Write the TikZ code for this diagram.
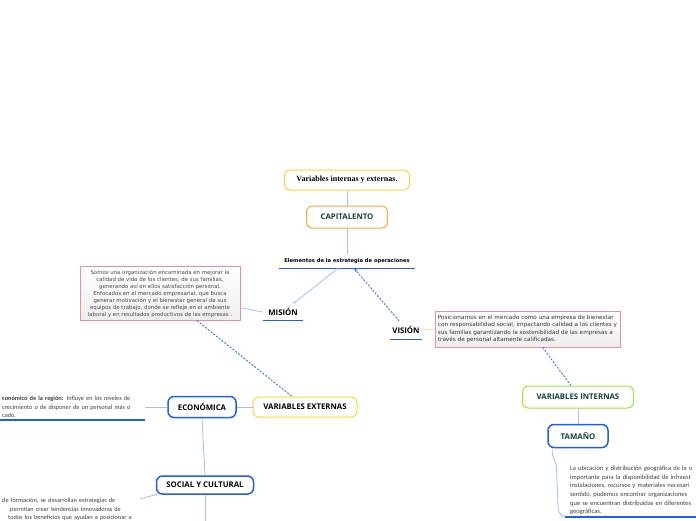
\documentclass[tikz,border=0pt]{standalone}
\usepackage{fontspec}
\setmainfont{Open Sans}
\newfontfamily\verdfont{DejaVu Sans}
\newfontfamily\califont{Carlito}
\newfontfamily\timesfont{Liberation Serif}
\usetikzlibrary{arrows.meta}
\definecolor{amarillo}{HTML}{F5D547}
\definecolor{naranja}{HTML}{F9A93C}
\definecolor{durazno}{HTML}{FAD9A8}
\definecolor{azul}{HTML}{1F5FEF}
\definecolor{celeste}{HTML}{A3BFF3}
\definecolor{punteo}{HTML}{3479DE}
\definecolor{verdelima}{HTML}{9BE43C}
\definecolor{rosa}{HTML}{E3929C}
\definecolor{verdeosc}{HTML}{17423A}
\definecolor{gristxt}{HTML}{4A4A4A}
\begin{document}
\begin{tikzpicture}[x=1pt,y=-1pt,
  tema/.style={draw,rounded corners=6pt,line width=1pt,inner sep=0pt,fill=white,
    font=\bfseries\fontsize{7.8}{8}\selectfont},
  ramal/.style={tema,draw=azul,line width=1.5pt},
  etiqueta/.style={inner sep=0pt,font=\bfseries\fontsize{7.8}{8}\selectfont},
  nota/.style={draw=rosa,line width=0.8pt,top color=white,bottom color=black!7,
    align=center,inner sep=3pt,font=\verdfont\fontsize{5.4}{7}\selectfont,text=gristxt},
  texto/.style={align=left,inner xsep=3pt,inner ysep=2pt,text=black!75,
    font=\califont\fontsize{6.3}{8.7}\selectfont},
  enlace/.style={draw=celeste,line width=0.8pt},
  subraya/.style={draw=azul,line width=1.3pt},
  punteado/.style={draw=punteo,line width=0.9pt,dash pattern=on 2pt off 1.5pt}]
\clip (0,0) rectangle (696,520);
\fill[white] (0,0) rectangle (696,520);

\node[tema,draw=amarillo,minimum width=125pt,minimum height=20pt,font=\timesfont\bfseries\fontsize{8}{9}\selectfont] (titulo) at (347,180) {Variables internas y externas.};
\node[tema,draw=naranja,minimum width=81pt,minimum height=22pt,text=verdeosc] (capital) at (347,217) {CAPITALENTO};
\node[inner sep=0pt,minimum width=135pt,minimum height=14pt,font=\verdfont\bfseries\fontsize{5.2}{6}\selectfont] (elem) at (347,261) {Elementos de la estrategia de operaciones};
\node[etiqueta,minimum width=40pt,minimum height=16pt] (mision) at (283,312) {MISIÓN};
\node[etiqueta,minimum width=32pt,minimum height=18pt] (vision) at (406,330) {VISIÓN};
\node[nota,minimum width=160pt,minimum height=53pt] (mdesc) at (160,293.5) {Somos una organización encaminada en mejorar la\\calidad de vida de los clientes, de sus familias,\\generando así en ellos satisfacción personal.\\Enfocados en el mercado empresarial, que busca\\generar motivación y el bienestar general de sus\\equipos de trabajo, donde se refleje en el ambiente\\laboral y en resultados productivos de las empresas .};
\node[nota,align=left,minimum width=183pt,minimum height=36pt,text=black!80,font=\verdfont\fontsize{5.7}{7.5}\selectfont] (vdesc) at (527.5,329) {Posicionarnos en el mercado como una empresa de bienestar\\con responsabilidad social, impactando  calidad a los clientes y\\sus familias garantizando la sostenibilidad de las empresas a\\través de personal altamente calificadas.};
\node[tema,draw=amarillo,minimum width=104pt,minimum height=20pt] (vext) at (305,407) {VARIABLES EXTERNAS};
\node[ramal,minimum width=68pt,minimum height=21pt] (econ) at (202,407) {ECONÓMICA};
\node[texto,text width=140pt,anchor=south west] (econtxt) at (-1,420) {\textbf{conómico de la región:} Influye en los niveles de\\crecimiento o de disponer de un personal más o\\cado.};
\node[ramal,minimum width=97pt,minimum height=18pt] (social) at (205,485) {SOCIAL  Y CULTURAL};
\node[texto,text width=140pt,anchor=north west] (soctxt) at (-1,496) {de formación, se desarrollan estrategias  de\\\hspace*{8pt}permitan crear  tendencias innovadoras de\\\hspace*{6pt}todos los beneficios que ayudan a posicionar a};
\node[tema,draw=verdelima,minimum width=111pt,minimum height=22pt,text=verdeosc] (vint) at (578,397) {VARIABLES INTERNAS};
\node[ramal,minimum width=60pt,minimum height=23pt,text=verdeosc] (tam) at (578,436) {TAMAÑO};
\node[texto,text width=150pt,anchor=south west,inner xsep=5pt,font=\califont\fontsize{6.5}{8.6}\selectfont] (tamtxt) at (565,517) {La ubicación y distribución geográfica de la o\\importante para la disponibilidad de infraest\\instalaciones, recursos y materiales necesari\\sentido, podemos encontrar organizaciones\\que se encuentran distribuidas en diferentes\\geográficas.};
\coordinate (econfin) at (145,407);
\coordinate (socfin) at (140,499);
\coordinate (socabajo) at (205,530);

\draw[enlace] (titulo) -- (capital);
\draw[enlace] (capital) -- (elem.north);
\draw[subraya] (elem.south west) -- (elem.south east);
\draw[enlace,-{Stealth[length=3pt,width=2.5pt]}] ([xshift=-9pt]elem.south) -- ([xshift=10pt]mision.north);
\draw[punteado,-{Stealth[length=4pt,width=3pt]}] ([xshift=-7pt]vision.north) -- ([xshift=7pt]elem.south);
\draw[subraya] (mision.south west) -- (mision.south east);
\draw[subraya] (vision.south west) -- (vision.south east);
\draw[enlace] (mision.west) -- ([yshift=13pt]mdesc.south east);
\draw[draw=durazno,line width=1pt] (vision.east) -- (vdesc.west);
\draw[punteado] ([xshift=37pt]mdesc.south) -- ([xshift=-13pt]vext.north);
\draw[punteado] ([xshift=15pt]vdesc.south) -- ([xshift=-7pt]vint.north);
\draw[enlace] (vext) -- (econ);
\draw[enlace] (econ.west) -- (econfin);
\draw[subraya] (econtxt.south west) -- (econtxt.south east);
\draw[enlace] (econ.south) -- (social.north);
\draw[enlace] ([xshift=3pt,yshift=1pt]social.south west) -- (socfin);
\draw[enlace] (social.south) -- (socabajo);
\draw[enlace] (vint) -- (tam);
\draw[enlace,rounded corners=4pt] ([xshift=5pt]tam.south west) -- ++(0,9) -- ++(4,5) -- ++(2,51) -- (tamtxt.south west);
\draw[subraya] (tamtxt.south west) -- (tamtxt.south east);
\end{tikzpicture}
\end{document}
